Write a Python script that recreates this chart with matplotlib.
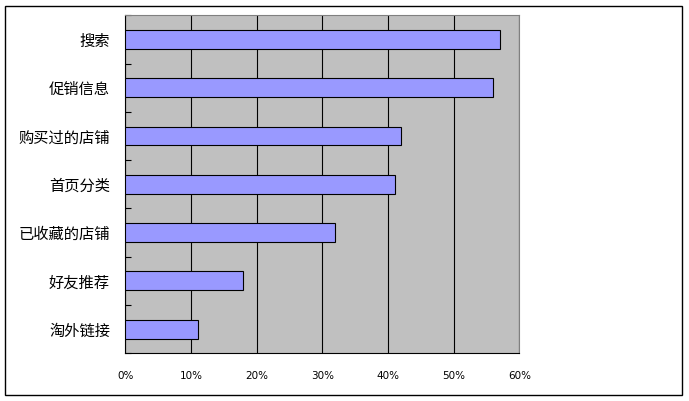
import matplotlib
matplotlib.use("Agg")
import matplotlib.pyplot as plt
from matplotlib.patches import Rectangle
from matplotlib.ticker import FixedLocator, PercentFormatter

plt.rcParams['font.family'] = ['Noto Sans CJK SC', 'DejaVu Sans']

categories = ["搜索", "促销信息", "购买过的店铺", "首页分类", "已收藏的店铺", "好友推荐", "淘外链接"]
values = [57, 56, 42, 41, 32, 18, 11]
x_ticks = [0, 10, 20, 30, 40, 50, 60]

W, H = 689, 401
fig = plt.figure(figsize=(W / 100, H / 100), dpi=100)
fig.patch.set_facecolor("white")

# outer frame
fig.add_artist(Rectangle((5 / W, 6 / H), (682 - 5) / W, (395 - 6) / H,
                         transform=fig.transFigure, fill=False,
                         edgecolor="black", linewidth=1.0))

ax = fig.add_axes([125.3 / W, (H - 353.3) / H, (519.3 - 125.3) / W, (353.3 - 15.3) / H])
ax.set_facecolor("#C0C0C0")

ypos = list(range(len(categories)))
ax.barh(ypos, values, height=0.39, color="#9999FF", edgecolor="black",
        linewidth=0.8, zorder=3)

ax.set_xlim(0, 60)
ax.set_ylim(len(categories) - 0.5, -0.5)

ax.set_xticks(x_ticks)
ax.xaxis.set_major_formatter(PercentFormatter(decimals=0))
ax.tick_params(axis="x", length=0, pad=12.5, labelsize=7.5)
for lbl in ax.get_xticklabels():
    lbl.set_family("DejaVu Sans")

ax.set_yticks(ypos)
ax.set_yticklabels(categories, fontsize=11)
ax.tick_params(axis="y", which="major", length=0, pad=11)
ax.yaxis.set_minor_locator(FixedLocator([i - 0.5 for i in range(len(categories) + 1)]))
ax.tick_params(axis="y", which="minor", direction="in", length=4, width=0.8, color="black")

ax.grid(axis="x", color="black", linewidth=0.8, zorder=1)
ax.set_axisbelow(True)

ax.spines["left"].set_color("black")
ax.spines["bottom"].set_color("black")
ax.spines["top"].set_color("#808080")
ax.spines["right"].set_color("#808080")
for s in ax.spines.values():
    s.set_linewidth(0.8)

fig.savefig("out.png", dpi=100)
